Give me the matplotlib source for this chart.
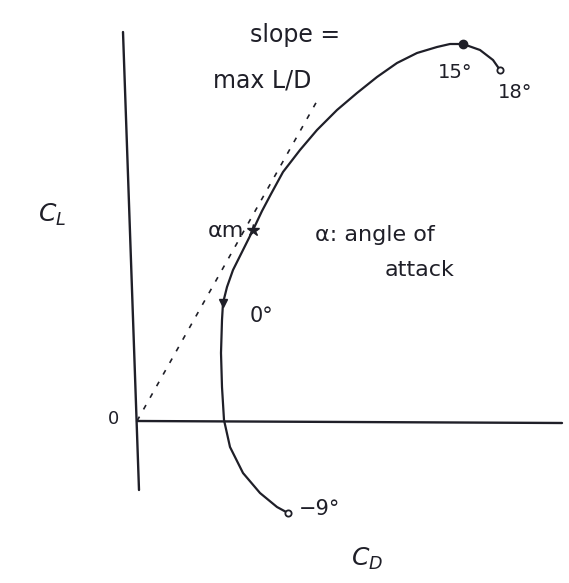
import matplotlib
matplotlib.use("Agg")
import matplotlib.pyplot as plt

# drag polar sketch: C_D on x, C_L on y (arbitrary units)
cd = [0.151, 0.140, 0.123, 0.106, 0.093, 0.087, 0.085, 0.084, 0.085, 0.086,
      0.090, 0.096, 0.106, 0.116, 0.125, 0.134, 0.146, 0.163, 0.180, 0.200,
      0.220, 0.240, 0.260, 0.280, 0.300, 0.313, 0.326, 0.343, 0.356, 0.363]
cl = [-0.92, -0.86, -0.72, -0.52, -0.26, 0.01, 0.34, 0.68, 1.01, 1.18,
      1.34, 1.51, 1.71, 1.91, 2.10, 2.27, 2.49, 2.71, 2.91, 3.11,
      3.28, 3.44, 3.58, 3.68, 3.74, 3.77, 3.77, 3.71, 3.61, 3.51]

# tagged angles of attack: -9°, 0°, alpha_m, 15°, 18°
tag_cd = [0.151, 0.086, 0.116, 0.326, 0.363]
tag_cl = [-0.92, 1.18, 1.91, 3.77, 3.51]

# tangent from origin (max L/D) and the two axes
tangent_cd = [0.0, 0.180]
tangent_cl = [0.0, 3.20]
yaxis_cd = [-0.014, 0.002]
yaxis_cl = [3.89, -0.69]
xaxis_cd = [0.0, 0.425]
xaxis_cl = [0.0, -0.02]

ink = "#1f1f28"

fig = plt.figure(figsize=(5.69, 5.83), dpi=100)
ax = fig.add_axes([0, 0, 1, 1])
ax.set_xlim(-0.137, 0.432)
ax.set_ylim(-1.62, 4.21)
ax.axis("off")

ax.plot(yaxis_cd, yaxis_cl, color=ink, lw=1.7, solid_capstyle="round")
ax.plot(xaxis_cd, xaxis_cl, color=ink, lw=1.7, solid_capstyle="round")
ax.plot(tangent_cd, tangent_cl, color=ink, lw=1.2, linestyle=(0, (3, 5)))
ax.plot(cd, cl, color=ink, lw=1.6, solid_joinstyle="round",
        solid_capstyle="round")

ax.plot(tag_cd[3], tag_cl[3], "o", color=ink, ms=6)
ax.plot(tag_cd[1], tag_cl[1], "v", color=ink, ms=6)
ax.plot(tag_cd[2], tag_cl[2], "*", color=ink, ms=9)
ax.plot([tag_cd[0], tag_cd[4]], [tag_cl[0], tag_cl[4]], "o", mfc="white",
        mec=ink, mew=1.3, ms=4.5)

hand = dict(color=ink, family="DejaVu Sans", va="center")
ax.text(0.113, 3.86, "slope =", fontsize=17, **hand)
ax.text(0.076, 3.41, "max L/D", fontsize=17, **hand)
ax.text(0.318, 3.49, "15°", fontsize=14, ha="center", **hand)
ax.text(0.378, 3.29, "18°", fontsize=14, ha="center", **hand)
ax.text(-0.085, 2.06, "$C_L$", fontsize=18, ha="center", **hand)
ax.text(0.107, 1.90, "αm", fontsize=16, ha="right", **hand)
ax.text(0.178, 1.86, "α: angle of", fontsize=16, **hand)
ax.text(0.283, 1.51, "attack", fontsize=16, ha="center", **hand)
ax.text(0.113, 1.05, "0°", fontsize=15, **hand)
ax.text(-0.024, 0.02, "0", fontsize=13, ha="center", **hand)
ax.text(0.162, -0.88, "−9°", fontsize=15, **hand)
ax.text(0.230, -1.38, "$C_D$", fontsize=18, ha="center", **hand)

fig.savefig("out.png", dpi=100, facecolor="white")
